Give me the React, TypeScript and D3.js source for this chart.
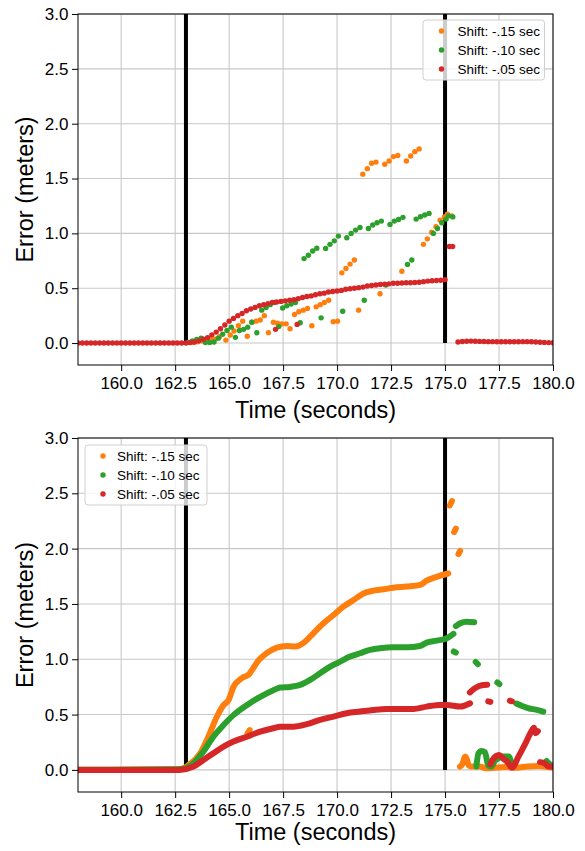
import React, { useEffect, useRef } from "react";
import * as d3 from "d3";

type Pt = [number, number];

const FONT = "'Liberation Sans', Arial, Helvetica, sans-serif";
const seriesColors = ["#ff7f0e", "#2ca02c", "#d62728"];
const legendLabels = ["Shift: -.15 sec", "Shift: -.10 sec", "Shift: -.05 sec"];
const xTicks = [160, 162.5, 165, 167.5, 170, 172.5, 175, 177.5, 180];
const yTicks = [0, 0.5, 1.0, 1.5, 2.0, 2.5, 3.0];
const eventTimes = [163, 175];

// ---- top panel: sparse samples (dots) ----
const topOrange: Pt[] = [
  [163.35, 0.006], [163.55, 0.012], [163.75, 0.02], [163.95, 0.028], [164.15, 0.032], [164.35, 0.036],
  [164.55, 0.058], [164.85, 0.027], [165.05, 0.073], [165.23, 0.11], [165.43, 0.158], [165.63, 0.2],
  [165.84, 0.062], [166.05, 0.19], [166.25, 0.2], [166.44, 0.21], [166.63, 0.25], [166.82, 0.095],
  [167.05, 0.19], [167.24, 0.18], [167.44, 0.175], [167.64, 0.175], [167.82, 0.13], [168.03, 0.26],
  [168.23, 0.285], [168.43, 0.3], [168.63, 0.315], [168.83, 0.158], [169.03, 0.33], [169.22, 0.35],
  [169.41, 0.37], [169.61, 0.39], [169.82, 0.195], [170.02, 0.2], [170.22, 0.64], [170.41, 0.68],
  [170.6, 0.72], [170.8, 0.757], [171.0, 0.3], [171.19, 1.54], [171.4, 1.59], [171.6, 1.64],
  [171.8, 1.65], [171.99, 0.45], [172.21, 1.63], [172.41, 1.66], [172.61, 1.7], [172.81, 1.71],
  [173.0, 0.655], [173.21, 1.66], [173.41, 1.705], [173.6, 1.745], [173.8, 1.77], [174.0, 0.9],
  [174.18, 0.95], [174.38, 1.01], [174.58, 1.06], [174.77, 1.12], [174.97, 1.15], [175.11, 1.175],
  [175.31, 1.16],
];

const topGreen: Pt[] = [
  [163.1, 0.005], [163.3, 0.02], [163.5, 0.034], [163.7, 0.045], [163.9, 0.004], [164.1, 0.006],
  [164.3, 0.01], [164.5, 0.045], [164.7, 0.08], [164.9, 0.115], [165.1, 0.145], [165.29, 0.052],
  [165.48, 0.115], [165.67, 0.125], [165.86, 0.145], [166.05, 0.19], [166.28, 0.094], [166.51, 0.3],
  [166.71, 0.325], [166.9, 0.35], [167.1, 0.37], [167.3, 0.15], [167.48, 0.32], [167.67, 0.34],
  [167.87, 0.355], [168.07, 0.37], [168.29, 0.185], [168.47, 0.77], [168.67, 0.8], [168.87, 0.84],
  [169.06, 0.865], [169.26, 0.23], [169.47, 0.863], [169.67, 0.9], [169.87, 0.932], [170.06, 0.975],
  [170.26, 0.29], [170.45, 0.96], [170.65, 1.0], [170.86, 1.03], [171.06, 1.054], [171.26, 0.39],
  [171.45, 1.045], [171.65, 1.076], [171.85, 1.097], [172.05, 1.112], [172.26, 0.53], [172.45, 1.082],
  [172.65, 1.112], [172.85, 1.127], [173.05, 1.146], [173.26, 0.717], [173.46, 0.757], [173.66, 1.13],
  [173.86, 1.152], [174.06, 1.167], [174.26, 1.182], [174.46, 1.0], [174.65, 1.045], [174.85, 1.097],
  [175.05, 1.13], [175.16, 1.16], [175.36, 1.15],
];

const topRed: Pt[] = [
  [158.0, 0], [158.2, 0], [158.4, 0], [158.6, 0], [158.8, 0], [159.0, 0], [159.2, 0], [159.4, 0],
  [159.6, 0], [159.8, 0], [160.0, 0], [160.2, 0], [160.4, 0], [160.6, 0], [160.8, 0], [161.0, 0],
  [161.2, 0], [161.4, 0], [161.6, 0], [161.8, 0], [162.0, 0], [162.2, 0], [162.4, 0], [162.6, 0],
  [162.8, 0], [163.0, 0], [163.2, 0.005], [163.4, 0.01], [163.6, 0.02], [163.8, 0.035], [164.0, 0.05],
  [164.2, 0.075], [164.4, 0.1], [164.6, 0.13], [164.8, 0.165], [165.0, 0.2], [165.2, 0.225],
  [165.4, 0.25], [165.6, 0.27], [165.8, 0.295], [166.0, 0.31], [166.2, 0.325], [166.4, 0.34],
  [166.6, 0.35], [166.8, 0.36], [167.0, 0.37], [167.2, 0.375], [167.4, 0.38], [167.6, 0.385],
  [167.8, 0.39], [168.0, 0.395], [168.2, 0.405], [168.4, 0.415], [168.6, 0.425], [168.8, 0.43],
  [169.0, 0.44], [169.2, 0.45], [169.4, 0.455], [169.6, 0.465], [169.8, 0.47], [170.0, 0.475],
  [170.2, 0.48], [170.4, 0.49], [170.6, 0.495], [170.8, 0.5], [171.0, 0.505], [171.2, 0.51],
  [171.4, 0.52], [171.6, 0.525], [171.8, 0.53], [172.0, 0.535], [172.2, 0.537], [172.4, 0.54],
  [172.6, 0.545], [172.8, 0.545], [173.0, 0.547], [173.2, 0.55], [173.4, 0.55], [173.6, 0.552],
  [173.8, 0.555], [174.0, 0.56], [174.2, 0.565], [174.4, 0.568], [174.6, 0.57], [174.8, 0.573],
  [175.0, 0.578], [175.2, 0.88], [175.35, 0.88],
  [175.6, 0.01], [175.8, 0.014], [176.0, 0.017], [176.2, 0.018], [176.4, 0.017], [176.6, 0.015],
  [176.8, 0.014], [177.0, 0.013], [177.2, 0.013], [177.4, 0.012], [177.6, 0.012], [177.8, 0.012],
  [178.0, 0.012], [178.2, 0.012], [178.4, 0.012], [178.6, 0.013], [178.8, 0.013], [179.0, 0.012],
  [179.2, 0.01], [179.4, 0.008], [179.6, 0.006], [179.8, 0.004], [180.0, 0.003],
];
const topRedLow: Pt[] = [[167.15, 0.125], [168.15, 0.17]];

// ---- bottom panel: dense samples (drawn as thick traces) ----
const botOrangeMain: Pt[] = [
  [158.0, 0], [162.7, 0.005], [163.19, 0.054], [163.66, 0.15], [164.04, 0.3], [164.43, 0.48],
  [164.74, 0.585], [164.97, 0.63], [165.2, 0.75], [165.59, 0.83], [165.9, 0.86], [166.05, 0.9],
  [166.36, 0.99], [166.74, 1.055], [167.21, 1.105], [167.67, 1.12], [168.06, 1.115], [168.52, 1.16],
  [168.9, 1.235], [169.37, 1.325], [169.83, 1.4], [170.29, 1.475], [170.76, 1.535], [171.22, 1.595],
  [171.68, 1.62], [172.14, 1.632], [172.61, 1.647], [173.23, 1.657], [173.84, 1.672], [174.15, 1.71],
  [174.61, 1.745], [175.15, 1.775],
];
const botOrangeBits: Pt[][] = [
  [[165.85, 0.33], [165.95, 0.36]],
  [[175.22, 2.39], [175.32, 2.43]],
  [[175.42, 2.15], [175.5, 2.18]],
  [[175.62, 1.95], [175.7, 1.98]],
  [[175.69, 0.03], [175.8, 0.05], [175.93, 0.12], [176.0, 0.1], [176.1, 0.04], [176.2, 0.03],
   [176.6, 0.03], [176.9, 0.015], [177.3, 0.02], [177.8, 0.025], [178.3, 0.02], [178.8, 0.03],
   [179.3, 0.035], [179.6, 0.03], [180.0, 0.02]],
];

const botGreenMain: Pt[] = [
  [158.0, 0], [162.7, 0.005], [163.35, 0.06], [163.81, 0.166], [164.27, 0.3], [164.74, 0.405],
  [165.2, 0.495], [165.82, 0.585], [166.44, 0.66], [167.05, 0.72], [167.36, 0.744], [167.82, 0.75],
  [168.29, 0.768], [168.75, 0.813], [169.21, 0.873], [169.68, 0.934], [170.14, 0.979], [170.6, 1.024],
  [171.06, 1.054], [171.53, 1.084], [171.99, 1.099], [172.61, 1.108], [173.23, 1.108], [173.84, 1.12],
  [174.15, 1.15], [174.61, 1.168], [175.08, 1.19], [175.25, 1.21], [175.39, 1.23],
];
const botGreenBits: Pt[][] = [
  [[175.5, 1.3], [175.7, 1.325], [176.0, 1.34], [176.35, 1.335]],
  [[175.4, 1.07], [175.5, 1.06]],
  [[176.42, 0.975], [176.52, 0.955]],
  [[177.42, 0.79], [177.52, 0.775]],
  [[178.3, 0.6], [178.6, 0.575], [178.9, 0.555], [179.2, 0.545], [179.55, 0.527]],
  [[176.45, 0.03], [176.55, 0.15], [176.7, 0.17], [176.85, 0.16], [177.0, 0.04], [177.15, 0.03],
   [177.3, 0.08], [177.5, 0.11], [177.7, 0.12], [177.95, 0.12], [178.1, 0.04]],
  [[179.7, 0.08], [179.85, 0.05], [180.0, 0.04]],
];

const botRedMain: Pt[] = [
  [158.0, 0], [162.7, 0], [163.35, 0.03], [163.81, 0.09], [164.27, 0.15], [164.74, 0.21],
  [165.2, 0.256], [165.82, 0.3], [166.44, 0.346], [167.05, 0.376], [167.36, 0.39], [167.98, 0.39],
  [168.6, 0.413], [169.21, 0.452], [169.83, 0.482], [170.45, 0.512], [171.06, 0.527], [171.68, 0.542],
  [172.3, 0.551], [172.92, 0.551], [173.53, 0.551], [174.15, 0.572], [174.77, 0.587], [175.08, 0.587],
  [175.7, 0.572], [176.16, 0.602],
];
const botRedBits: Pt[][] = [
  [[176.15, 0.7], [176.4, 0.74], [176.7, 0.765], [176.95, 0.77]],
  [[177.0, 0.62], [177.1, 0.615]],
  [[178.0, 0.625], [178.1, 0.62]],
  [[177.1, 0.05], [177.2, 0.09], [177.5, 0.135], [177.7, 0.1], [177.9, 0.07], [178.1, 0.02],
   [178.4, 0.12], [178.7, 0.23], [178.95, 0.33], [179.12, 0.38], [179.2, 0.33], [179.3, 0.35]],
  [[179.4, 0.07], [179.6, 0.06], [179.8, 0.03], [180.0, 0.03]],
];

const LEFT = 78;
const RIGHT = 553;

const panels = [
  {
    top: 14, bottom: 365, kind: "dots",
    series: [[topOrange], [topGreen], [topRed, topRedLow]],
    legend: { x: 423, y: 20, w: 121.5, h: 60, mx: 18.5, tx: 34.5 },
    xLabelY: 418,
  },
  {
    top: 438, bottom: 792, kind: "lines",
    series: [[botOrangeMain, ...botOrangeBits], [botGreenMain, ...botGreenBits], [botRedMain, ...botRedBits]],
    legend: { x: 85, y: 445, w: 122, h: 60, mx: 18, tx: 32 },
    xLabelY: 840,
  },
];

function drawPanel(svg: any, p: any, idx: number) {
  const x = d3.scaleLinear().domain([158, 180]).range([LEFT, RIGHT]);
  const y = d3.scaleLinear().domain([-0.2, 3.0]).range([p.bottom, p.top]);
  const g = svg.append("g");

  const clipId = "plotclip" + idx;
  g.append("clipPath").attr("id", clipId)
    .append("rect").attr("x", LEFT).attr("y", p.top)
    .attr("width", RIGHT - LEFT).attr("height", p.bottom - p.top);

  // grid
  g.append("g").selectAll("line").data(xTicks).join("line")
    .attr("x1", (d: number) => x(d)).attr("x2", (d: number) => x(d))
    .attr("y1", p.top).attr("y2", p.bottom)
    .attr("stroke", "#c8c8c8").attr("stroke-width", 1.1);
  g.append("g").selectAll("line").data(yTicks).join("line")
    .attr("x1", LEFT).attr("x2", RIGHT)
    .attr("y1", (d: number) => y(d)).attr("y2", (d: number) => y(d))
    .attr("stroke", "#c8c8c8").attr("stroke-width", 1.1);

  const plot = g.append("g").attr("clip-path", `url(#${clipId})`);

  plot.append("g").selectAll("line").data(eventTimes).join("line")
    .attr("x1", (d: number) => x(d)).attr("x2", (d: number) => x(d))
    .attr("y1", y(0)).attr("y2", y(3))
    .attr("stroke", "#000").attr("stroke-width", 4);

  p.series.forEach((segs: Pt[][], si: number) => {
    if (p.kind === "dots") {
      plot.append("g").selectAll("circle").data(segs.flat()).join("circle")
        .attr("cx", (d: Pt) => x(d[0])).attr("cy", (d: Pt) => y(d[1]))
        .attr("r", 2.7).attr("fill", seriesColors[si]);
    } else {
      const line = d3.line<Pt>().x(d => x(d[0])).y(d => y(d[1])).curve(d3.curveMonotoneX);
      plot.append("g").selectAll("path").data(segs).join("path")
        .attr("d", (d: Pt[]) => line(d))
        .attr("fill", "none").attr("stroke", seriesColors[si])
        .attr("stroke-width", 6).attr("stroke-linecap", "round").attr("stroke-linejoin", "round");
    }
  });

  // spines
  g.append("rect").attr("x", LEFT).attr("y", p.top)
    .attr("width", RIGHT - LEFT).attr("height", p.bottom - p.top)
    .attr("fill", "none").attr("stroke", "#000").attr("stroke-width", 1);

  // axes
  const xAxis = g.append("g").attr("transform", `translate(0,${p.bottom})`)
    .call(d3.axisBottom(x).tickValues(xTicks).tickFormat(d3.format(".1f")).tickSizeOuter(0).tickSize(6).tickPadding(6));
  xAxis.select(".domain").remove();
  xAxis.attr("font-size", 17).attr("font-family", FONT);
  xAxis.selectAll("text").attr("fill", "#000");

  const yAxis = g.append("g").attr("transform", `translate(${LEFT},0)`)
    .call(d3.axisLeft(y).tickValues(yTicks).tickFormat(d3.format(".1f")).tickSizeOuter(0).tickSize(6).tickPadding(3.5));
  yAxis.select(".domain").remove();
  yAxis.attr("font-size", 17).attr("font-family", FONT);
  yAxis.selectAll("text").attr("fill", "#000");

  // axis labels
  g.append("text").attr("x", (LEFT + RIGHT) / 2).attr("y", p.xLabelY)
    .attr("text-anchor", "middle").attr("font-family", FONT).attr("font-size", 23.5)
    .text("Time (seconds)");
  g.append("text")
    .attr("transform", `translate(33,${(p.top + p.bottom) / 2}) rotate(-90)`)
    .attr("text-anchor", "middle").attr("font-family", FONT).attr("font-size", 23.5)
    .text("Error (meters)");

  // legend
  const L = p.legend;
  const lg = g.append("g");
  lg.append("rect").attr("x", L.x).attr("y", L.y).attr("width", L.w).attr("height", L.h)
    .attr("rx", 3).attr("fill", "#fff").attr("fill-opacity", 0.8)
    .attr("stroke", "#d0d0d0").attr("stroke-width", 1);
  legendLabels.forEach((lab, i) => {
    const cy = L.y + 11 + i * 19;
    lg.append("circle").attr("cx", L.x + L.mx).attr("cy", cy).attr("r", 2.7).attr("fill", seriesColors[i]);
    lg.append("text").attr("x", L.x + L.tx).attr("y", cy).attr("dy", "0.35em")
      .attr("font-family", FONT).attr("font-size", 13.5).attr("fill", "#000").text(lab);
  });
}

export default function App() {
  const ref = useRef<SVGSVGElement>(null);

  useEffect(() => {
    const svg = d3.select(ref.current);
    svg.selectAll("*").remove();
    panels.forEach((p, i) => drawPanel(svg, p, i));
  }, []);

  return (
    <svg
      ref={ref}
      width={585}
      height={851}
      style={{ position: "absolute", left: 0, top: 0, background: "#fff" }}
    />
  );
}
